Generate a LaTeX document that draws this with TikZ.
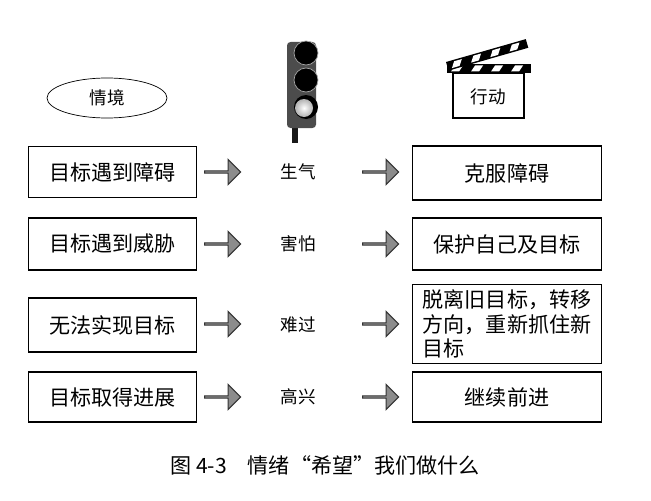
\documentclass[tikz,border=0pt]{standalone}
\usepackage{fontspec}
\newfontfamily\cjk{Noto Sans CJK SC}
\usetikzlibrary{positioning}
\usetikzlibrary{shapes.arrows}
\usetikzlibrary{shapes.geometric}

\tikzset{
  box/.style={draw, line width=0.6pt, minimum width=3.36cm, inner sep=2pt, font=\cjk\fontsize{12}{15}\selectfont},
  emo/.style={font=\cjk\fontsize{10}{12}\selectfont},
  garrow/.style={single arrow, draw=black!80, fill=black!45, line width=0.6pt, minimum height=0.72cm, minimum width=0.5cm, single arrow head extend=0.1cm, inner sep=0pt}
}

\begin{document}
\begin{tikzpicture}[x=0.02cm, y=-0.02cm]
\useasboundingbox (0,0) rectangle (651,500);

%%%%%%%%%%%%    header   %%%%%%%%%%%%
\node[draw, ellipse, minimum width=2.4cm, minimum height=0.8cm, emo] (sit) at (107,98) {情境};

% traffic light
\fill[black!90] (292,118) rectangle (298,143);
\fill[black!70, rounded corners=2pt] (287,42) rectangle (316,128);
\foreach \cy in {53,80} {
  \fill[black] (306,\cy) circle (12);
  \draw[gray!70, line width=0.4pt] (306,\cy) circle (12);
}
\fill[black] (306,107) circle (12);
\shade[inner color=white, outer color=gray!60] (304,108) circle (9);

% clapperboard
\draw[line width=0.8pt] (453,73) rectangle (524,118);
\fill[black] (447,64) rectangle (531,73);
\foreach \sx in {455,475,495,515} {
  \fill[white] (\sx,65.5)--++(8,0)--++(-4,6)--++(-8,0)--cycle;
}
\begin{scope}[shift={(446,62)}, rotate=16]
\fill[black] (0,0) rectangle (83,9);
\foreach \sx in {8,28,48,68} {
  \fill[white] (\sx,1.5)--++(8,0)--++(-4,6)--++(-8,0)--cycle;
}
\end{scope}
\node[emo] (act) at (488,97) {行动};

%%%%%%%%%%%%    rows   %%%%%%%%%%%%
\node[box, minimum height=1.02cm, anchor=west] (s1) at (28,172) {目标遇到障碍};
\node[box, minimum height=1.04cm, anchor=west] (s2) at (28,244) {目标遇到威胁};
\node[box, minimum height=1.08cm, anchor=west] (s3) at (28,325) {无法实现目标};
\node[box, minimum height=1.0cm, anchor=west] (s4) at (28,397) {目标取得进展};

\node[emo] (e1) at (298,172) {生气};
\node[emo] (e2) at (298,244) {害怕};
\node[emo] (e3) at (298,325) {难过};
\node[emo] (e4) at (298,397) {高兴};

\node[box, minimum width=3.78cm, minimum height=1.08cm, anchor=west] (r1) at (412,173) {克服障碍};
\node[box, minimum width=3.78cm, minimum height=1.04cm, anchor=west] (r2) at (412,244) {保护自己及目标};
\node[box, minimum width=3.78cm, minimum height=1.58cm, anchor=west, align=left, font=\cjk\fontsize{12}{14}\selectfont] (r3) at (412,324) {脱离旧目标，转移\\方向，重新抓住新\\目标};
\node[box, minimum width=3.78cm, minimum height=1.0cm, anchor=west] (r4) at (412,397) {继续前进};

\foreach \i/\y in {1/172,2/244,3/324,4/397} {
  \node[garrow] (la\i) at (222,\y) {};
  \node[garrow] (ra\i) at (380,\y) {};
}

% caption
\node[emo, font=\cjk\fontsize{12}{14}\selectfont] (cap) at (325,465) {图 4-3\quad 情绪“希望”我们做什么};
\end{tikzpicture}
\end{document}
